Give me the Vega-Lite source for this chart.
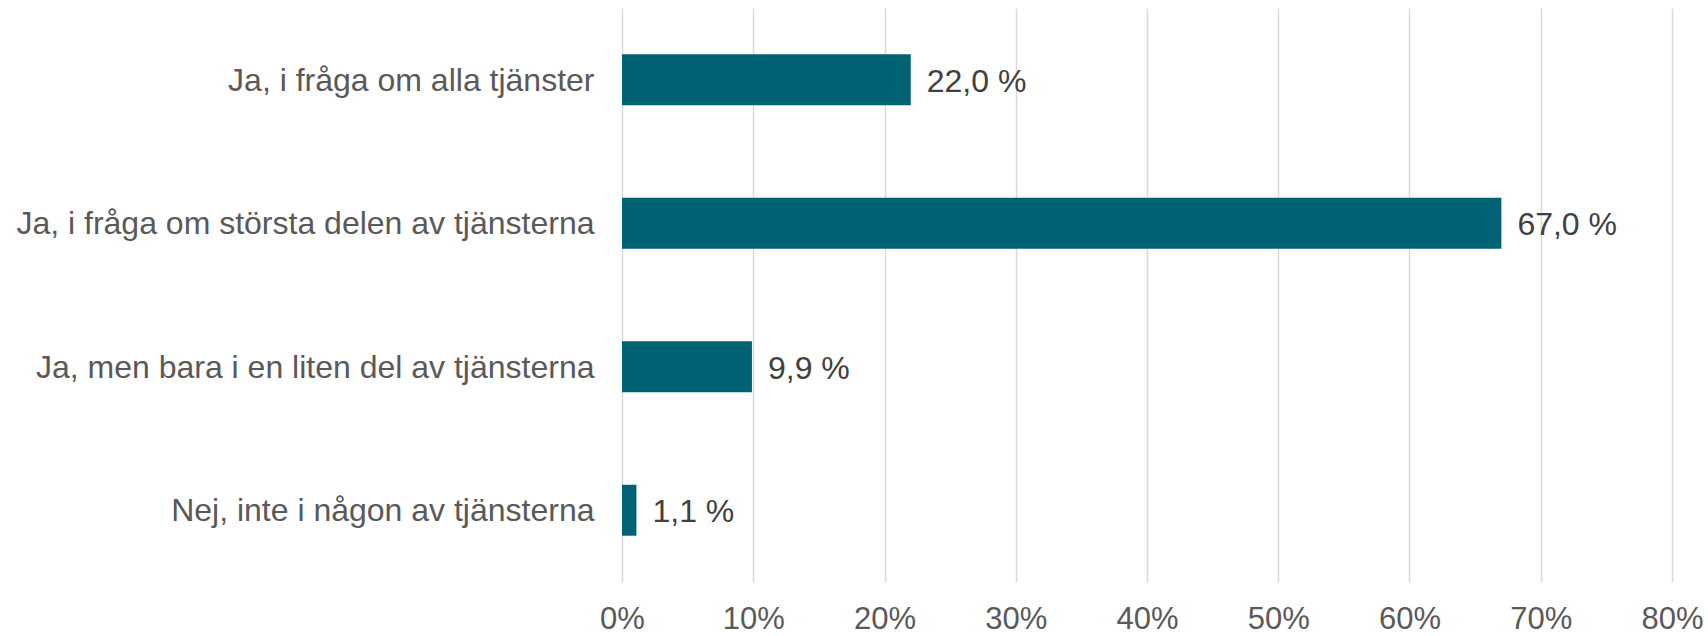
{
  "$schema": "https://vega.github.io/schema/vega-lite/v6.json",
  "autosize": "none",
  "width": 1050,
  "height": 574,
  "padding": {"left": 622, "top": 8, "right": 36, "bottom": 54},
  "background": "white",
  "data": {
    "values": [
      {"kategori": "Ja, i fråga om alla tjänster", "andel": 0.22, "etikett": "22,0 %"},
      {"kategori": "Ja, i fråga om största delen av tjänsterna", "andel": 0.67, "etikett": "67,0 %"},
      {"kategori": "Ja, men bara i en liten del av tjänsterna", "andel": 0.099, "etikett": "9,9 %"},
      {"kategori": "Nej, inte i någon av tjänsterna", "andel": 0.011, "etikett": "1,1 %"}
    ]
  },
  "config": {
    "view": {"stroke": null},
    "font": "Liberation Sans"
  },
  "encoding": {
    "y": {
      "field": "kategori",
      "type": "nominal",
      "sort": null,
      "scale": {"paddingInner": 0.645, "paddingOuter": 0.3225},
      "axis": {
        "title": null,
        "domain": false,
        "ticks": false,
        "grid": false,
        "labelFont": "Liberation Sans",
        "labelFontSize": 32,
        "labelColor": "#595959",
        "labelPadding": 28,
        "labelOffset": 1,
        "labelLimit": 700
      }
    },
    "x": {
      "field": "andel",
      "type": "quantitative",
      "scale": {"domain": [0, 0.8], "nice": false},
      "axis": {
        "title": null,
        "values": [0, 0.1, 0.2, 0.3, 0.4, 0.5, 0.6, 0.7, 0.8],
        "format": ".0%",
        "domain": false,
        "ticks": false,
        "grid": true,
        "gridColor": "#d9d9d9",
        "gridWidth": 1.5,
        "labelFlush": false,
        "labelFont": "Liberation Sans",
        "labelFontSize": 31,
        "labelColor": "#595959",
        "labelPadding": 22
      }
    }
  },
  "layer": [
    {"mark": {"type": "bar", "color": "#006373"}},
    {
      "mark": {"type": "text", "align": "left", "baseline": "middle", "dx": 16, "dy": 2, "fontSize": 32, "color": "#404040", "font": "Liberation Sans"},
      "encoding": {"text": {"field": "etikett"}}
    }
  ]
}
